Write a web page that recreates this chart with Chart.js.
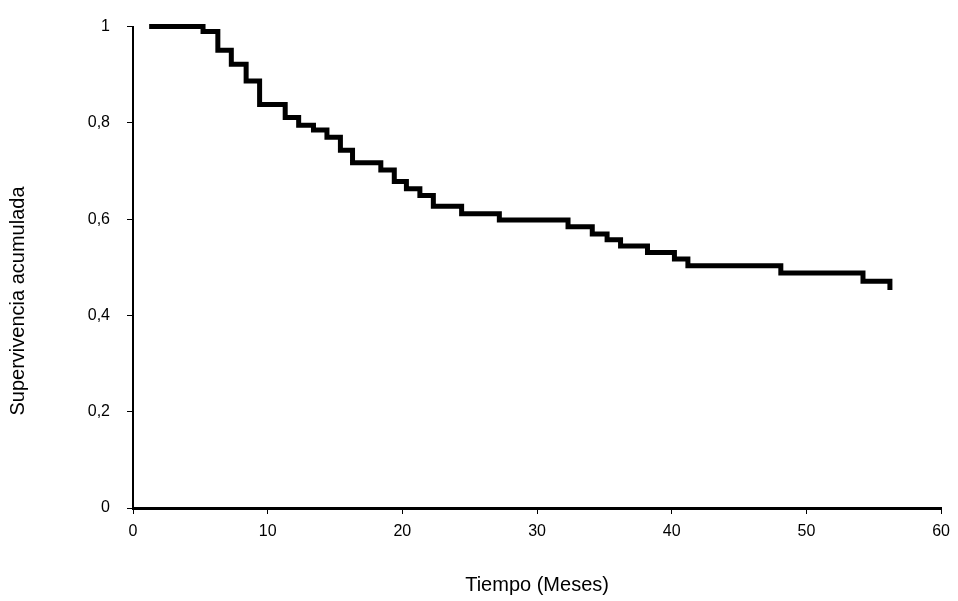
<!DOCTYPE html>
<html><head><meta charset="utf-8">
<script src="https://cdn.jsdelivr.net/npm/chart.js@4/dist/chart.umd.min.js"></script>
<style>html,body{margin:0;padding:0;background:#fff}#wrap{width:958px;height:601px}</style>
</head><body><div id="wrap"><canvas id="c" width="958" height="601"></canvas></div>
<script>
// Kaplan-Meier step curve
const months = [1.2, 5.2, 6.3, 7.3, 8.4, 9.4, 11.3, 12.3, 13.4, 14.4, 15.4, 16.3, 18.4, 19.4, 20.3, 21.3, 22.3, 24.4, 27.2, 32.3, 34.1, 35.2, 36.2, 38.2, 40.2, 41.2, 48.1, 54.2, 56.2];
const survival = [1.0, 0.99, 0.951, 0.922, 0.887, 0.838, 0.811, 0.795, 0.785, 0.77, 0.743, 0.717, 0.702, 0.678, 0.663, 0.649, 0.627, 0.611, 0.598, 0.584, 0.569, 0.557, 0.544, 0.531, 0.517, 0.503, 0.488, 0.471, 0.453];
const xTickValues = [0, 10, 20, 30, 40, 50, 60];
const yTickValues = [0, 0.2, 0.4, 0.6, 0.8, 1];
const xTitle = 'Tiempo (Meses)';
const yTitle = 'Supervivencia acumulada';

const FONT = '"Liberation Sans", Arial, sans-serif';
Chart.defaults.font.family = FONT;
Chart.defaults.font.size = 15;
Chart.defaults.color = '#000';

const points = months.map((m, i) => ({x: m, y: survival[i]}));

// y-axis title drawn beside the axis, centred a little below the scale middle as in the reference
const yTitlePlugin = {
  id: 'yTitle',
  afterDraw(chart) {
    const ctx = chart.ctx;
    const y = chart.scales.y;
    ctx.save();
    ctx.translate(18, y.getPixelForValue(0.43));
    ctx.rotate(-Math.PI / 2);
    ctx.font = '20px ' + FONT;
    ctx.fillStyle = '#000';
    ctx.textAlign = 'center';
    ctx.textBaseline = 'middle';
    ctx.fillText(yTitle, 0, 0);
    ctx.restore();
  }
};

new Chart(document.getElementById('c'), {
  type: 'line',
  data: {datasets: [{
    data: points,
    stepped: 'before',
    borderColor: '#000',
    borderWidth: 5,
    pointRadius: 0,
    fill: false,
    clip: false,
    borderJoinStyle: 'miter',
    borderCapStyle: 'butt'
  }]},
  options: {
    responsive: false,
    animation: false,
    layout: {padding: {top: 21, right: 16, left: 0, bottom: 0}},
    plugins: {legend: {display: false}, tooltip: {enabled: false}},
    scales: {
      x: {
        type: 'linear', min: 0, max: 60,
        afterBuildTicks: s => { s.ticks = xTickValues.map(v => ({value: v})); },
        afterFit: s => { s.height = 93; },
        ticks: {padding: 8, maxRotation: 0, font: {size: 16}},
        grid: {drawOnChartArea: false, tickLength: 6, color: '#000', tickWidth: 1},
        border: {color: '#000', width: 3},
        title: {display: true, text: xTitle, font: {size: 20}, padding: {top: 0, bottom: 4}}
      },
      y: {
        type: 'linear', min: 0, max: 1,
        afterBuildTicks: s => { s.ticks = yTickValues.map(v => ({value: v})); },
        afterFit: s => { s.width = 133; },
        ticks: {padding: 17, font: {size: 16},
          callback: v => String(v).replace('.', ',')},
        grid: {drawOnChartArea: false, tickLength: 6, color: '#000', tickWidth: 1},
        border: {color: '#000', width: 2},
        title: {display: false}
      }
    }
  },
  plugins: [yTitlePlugin]
});
</script></body></html>
